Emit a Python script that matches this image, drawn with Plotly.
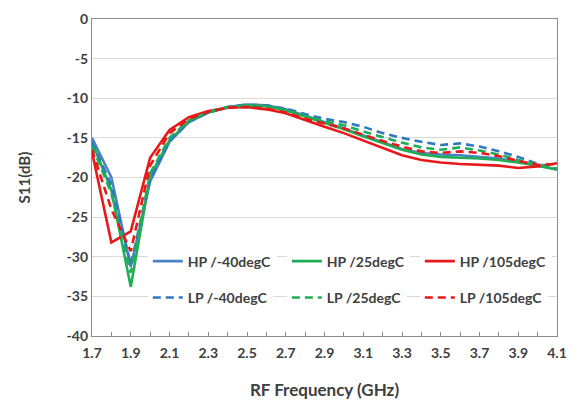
import plotly.graph_objects as go

freq = [1.7, 1.8, 1.9, 2.0, 2.1, 2.2, 2.3, 2.4, 2.5, 2.6, 2.7, 2.8, 2.9,
        3.0, 3.1, 3.2, 3.3, 3.4, 3.5, 3.6, 3.7, 3.8, 3.9, 4.0, 4.1]

hp_m40 = [-15.0, -20.0, -31.3, -20.5, -15.5, -13.0, -11.8, -11.1, -10.8, -10.9, -11.4, -12.2, -13.0,
          -13.8, -14.7, -15.6, -16.4, -16.9, -17.1, -17.2, -17.4, -17.6, -18.0, -18.5, -19.0]
hp_25 = [-15.5, -21.6, -33.8, -19.8, -15.3, -12.9, -11.8, -11.2, -10.9, -11.0, -11.5, -12.3, -13.1,
         -13.9, -14.8, -15.7, -16.5, -17.1, -17.4, -17.5, -17.6, -17.8, -18.1, -18.5, -19.0]
hp_105 = [-16.8, -28.2, -26.8, -17.5, -14.0, -12.4, -11.6, -11.2, -11.1, -11.4, -11.9, -12.8, -13.6,
          -14.4, -15.3, -16.3, -17.2, -17.8, -18.1, -18.3, -18.4, -18.5, -18.8, -18.6, -18.2]
lp_m40 = [-15.5, -21.0, -31.0, -20.2, -15.4, -13.0, -11.8, -11.1, -10.8, -10.9, -11.3, -12.0, -12.6,
          -13.0, -13.6, -14.4, -15.0, -15.5, -15.9, -15.7, -16.1, -16.7, -17.4, -18.3, -18.9]
lp_25 = [-16.0, -22.0, -32.0, -19.5, -15.0, -12.8, -11.7, -11.1, -10.9, -11.0, -11.5, -12.2, -12.9,
         -13.4, -14.2, -14.9, -15.6, -16.2, -16.5, -16.2, -16.6, -17.1, -17.8, -18.4, -18.9]
lp_105 = [-16.5, -24.0, -29.3, -18.5, -14.4, -12.6, -11.7, -11.2, -11.1, -11.3, -11.8, -12.6, -13.2,
          -13.8, -14.6, -15.4, -16.1, -16.7, -16.9, -16.7, -16.9, -17.3, -17.9, -18.4, -18.3]

x_tick_labels = ["1.7", "1.9", "2.1", "2.3", "2.5", "2.7", "2.9", "3.1", "3.3", "3.5", "3.7", "3.9", "4.1"]
y_tick_labels = ["0", "-5", "-10", "-15", "-20", "-25", "-30", "-35", "-40"]

names = ["HP /-40degC", "HP /25degC", "HP /105degC",
         "LP /-40degC", "LP /25degC", "LP /105degC"]
series = [hp_m40, hp_25, hp_105, lp_m40, lp_25, lp_105]
colors = ["#4a83c4", "#1fae55", "#e8191b", "#2e78c0", "#1fae55", "#e8191b"]
dashes = ["solid", "solid", "solid", "8px,5px", "8px,5px", "8px,5px"]
legend_ids = ["legend", "legend2", "legend3", "legend4", "legend5", "legend6"]
legend_x = [0.12, 0.419, 0.705, 0.12, 0.419, 0.705]
legend_y = [0.235, 0.235, 0.235, 0.12, 0.12, 0.12]

FONT = "Lato"

fig = go.Figure()
for nm, ys, c, d, lg in zip(names, series, colors, dashes, legend_ids):
    fig.add_trace(go.Scatter(x=freq, y=ys, mode="lines", name=nm,
                             line=dict(color=c, width=2.6, dash=d),
                             legend=lg))

legend_layout = {}
for lg, lx, ly in zip(legend_ids, legend_x, legend_y):
    legend_layout[lg] = dict(x=lx, y=ly, xanchor="left", yanchor="middle",
                             orientation="h", bgcolor="white", borderwidth=0,
                             itemwidth=30,
                             font=dict(family=FONT, size=14, color="#404040", weight="bold"))

x_tick_vals = [float(t) for t in x_tick_labels]
y_tick_vals = [float(t) for t in y_tick_labels]

fig.update_layout(
    width=579, height=410,
    margin=dict(l=92, r=22, t=19, b=74),
    paper_bgcolor="white", plot_bgcolor="white",
    font=dict(family=FONT, color="#404040"),
    showlegend=True,
    **legend_layout,
    xaxis=dict(
        range=[1.7, 4.1], tickmode="array", automargin=False,
        tickvals=x_tick_vals, ticktext=x_tick_labels,
        ticks="inside", ticklen=4, tickcolor="#8c8c8c",
        minor=dict(tickmode="array",
                   tickvals=[1.8, 2.0, 2.2, 2.4, 2.6, 2.8, 3.0, 3.2, 3.4, 3.6, 3.8, 4.0],
                   ticks="inside", ticklen=4, tickcolor="#8c8c8c"),
        showgrid=False, zeroline=False,
        showline=True, linecolor="#8c8c8c", linewidth=1.3, mirror=True,
        ticklabelstandoff=4,
        tickfont=dict(family=FONT, size=14, color="#404040", weight="bold"),
        title=dict(text="RF Frequency (GHz)", standoff=24,
                   font=dict(family=FONT, size=17, color="#404040", weight="bold")),
    ),
    yaxis=dict(
        range=[-40, 0], tickmode="array", automargin=False,
        tickvals=y_tick_vals, ticktext=y_tick_labels,
        showgrid=True, gridcolor="#d9d9d9", gridwidth=1,
        zeroline=False, ticks="",
        showline=True, linecolor="#8c8c8c", linewidth=1.3, mirror=True,
        tickfont=dict(family=FONT, size=14, color="#404040", weight="bold"),
        title=dict(text="S11(dB)", standoff=32,
                   font=dict(family=FONT, size=15, color="#404040", weight="bold")),
    ),
)

fig.write_html("out.html", config={"displayModeBar": False},
               post_script="document.body.style.margin='0';document.body.style.padding='0';")
